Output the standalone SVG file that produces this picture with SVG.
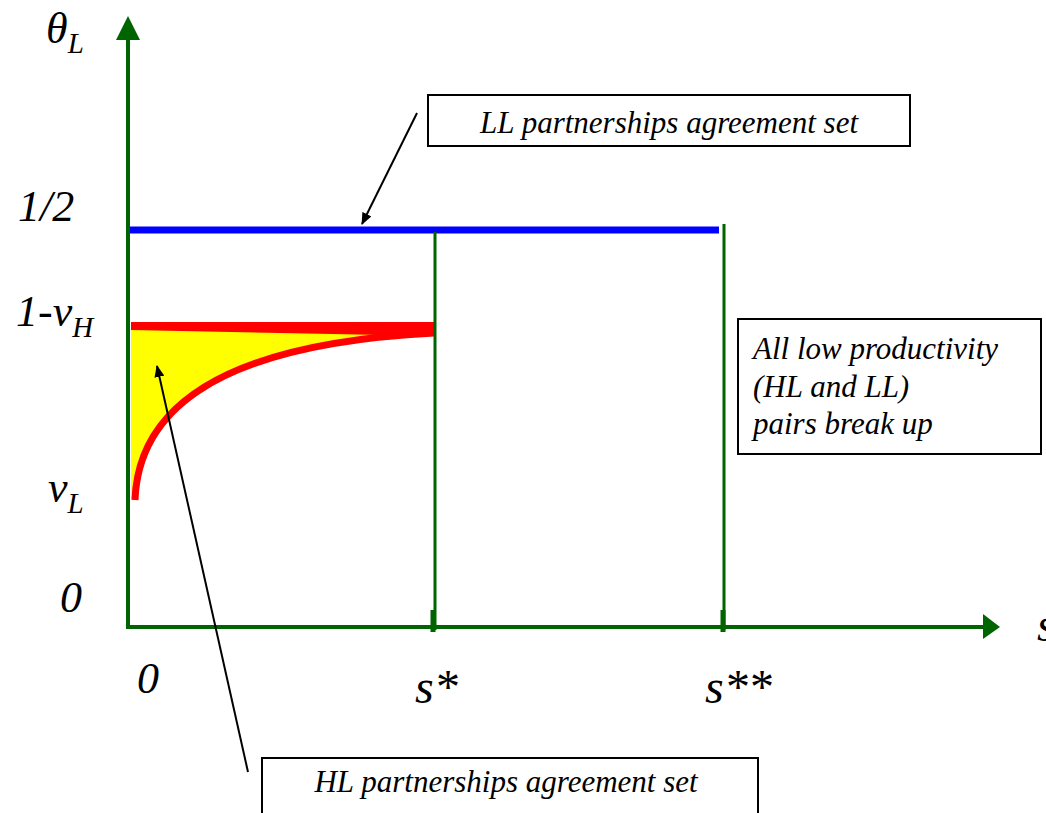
<svg xmlns="http://www.w3.org/2000/svg" width="1046" height="813" viewBox="0 0 1046 813">
<style>
  text { font-family: "Liberation Serif", "Times New Roman", serif; font-style: italic; fill: #000; }
  .lbl { font-size: 44px; }
  .sub { font-size: 29px; }
  .box { fill: #fff; stroke: #000; stroke-width: 2; }
  .boxt { font-size: 31px; }
  .axis { stroke: #006400; stroke-width: 4; fill: none; }
  .vline { stroke: #006400; stroke-width: 3; fill: none; }
  .ptr { stroke: #000; stroke-width: 2; fill: none; marker-end: url(#ah); }
</style>
<defs>
  <marker id="ah" viewBox="0 0 12 10" refX="11" refY="5" markerWidth="12" markerHeight="10" markerUnits="userSpaceOnUse" orient="auto">
    <path d="M0,0 L12,5 L0,10 Z" fill="#000"/>
  </marker>
</defs>
<rect width="1046" height="813" fill="#fff"/>

<g id="regions">
  <path id="hl-set" d="M131,329 L434,333 C200,345 138,420 135,500 L131,500 Z" fill="#ffff00"/>
  <path id="hl-top" d="M131,322 L435,322 L435,336 L131,330 Z" fill="#ff0000"/>
  <path id="hl-curve" d="M135,500 C138,420 200,345 434,333" fill="none" stroke="#ff0000" stroke-width="7"/>
  <line id="ll-set" x1="128" y1="230" x2="719" y2="230" stroke="#0000ff" stroke-width="7"/>
</g>

<g id="axes">
  <line class="axis" x1="128" y1="629" x2="128" y2="38"/>
  <polygon points="128,16 116,40 140,40" fill="#006400"/>
  <line class="axis" x1="126" y1="627" x2="985" y2="627"/>
  <polygon points="1000,627 983,614 983,639" fill="#006400"/>
  <line class="vline" x1="435" y1="232" x2="435" y2="630"/>
  <line x1="433" y1="610" x2="433" y2="632" stroke="#006400" stroke-width="5"/>
  <line class="vline" x1="724" y1="224" x2="724" y2="630"/>
  <line x1="723" y1="610" x2="723" y2="632" stroke="#006400" stroke-width="5"/>
</g>

<g id="axis-labels">
  <text class="lbl" x="46" y="43">θ<tspan class="sub" dy="10">L</tspan></text>
  <text class="lbl" x="18" y="221">1/2</text>
  <text class="lbl" x="16" y="326">1-v<tspan class="sub" dy="11">H</tspan></text>
  <text class="lbl" x="48" y="502">v<tspan class="sub" dy="11">L</tspan></text>
  <text class="lbl" x="60" y="612">0</text>
  <text class="lbl" x="137" y="693">0</text>
  <text class="lbl" x="415" y="703" style="font-size:48px">s*</text>
  <text class="lbl" x="705" y="703" style="font-size:48px">s**</text>
  <text class="lbl" x="1037" y="641" style="font-size:48px">s</text>
</g>

<g id="connectors">
  <line class="ptr" x1="417" y1="113" x2="362" y2="224"/>
  <line class="ptr" x1="248" y1="772" x2="157" y2="366"/>
</g>

<g id="ll-box">
  <rect class="box" x="428" y="95" width="482" height="51"/>
  <text class="boxt" x="669" y="133" text-anchor="middle">LL partnerships agreement set</text>
</g>

<g id="breakup-box">
  <rect class="box" x="738" y="319" width="303" height="135"/>
  <text class="boxt" x="753" y="359">All low productivity</text>
  <text class="boxt" x="753" y="397">(HL and LL)</text>
  <text class="boxt" x="753" y="434">pairs break up</text>
</g>

<g id="hl-box">
  <rect class="box" x="262" y="758" width="496" height="70"/>
  <text class="boxt" x="506" y="792" text-anchor="middle">HL partnerships agreement set</text>
</g>
</svg>
